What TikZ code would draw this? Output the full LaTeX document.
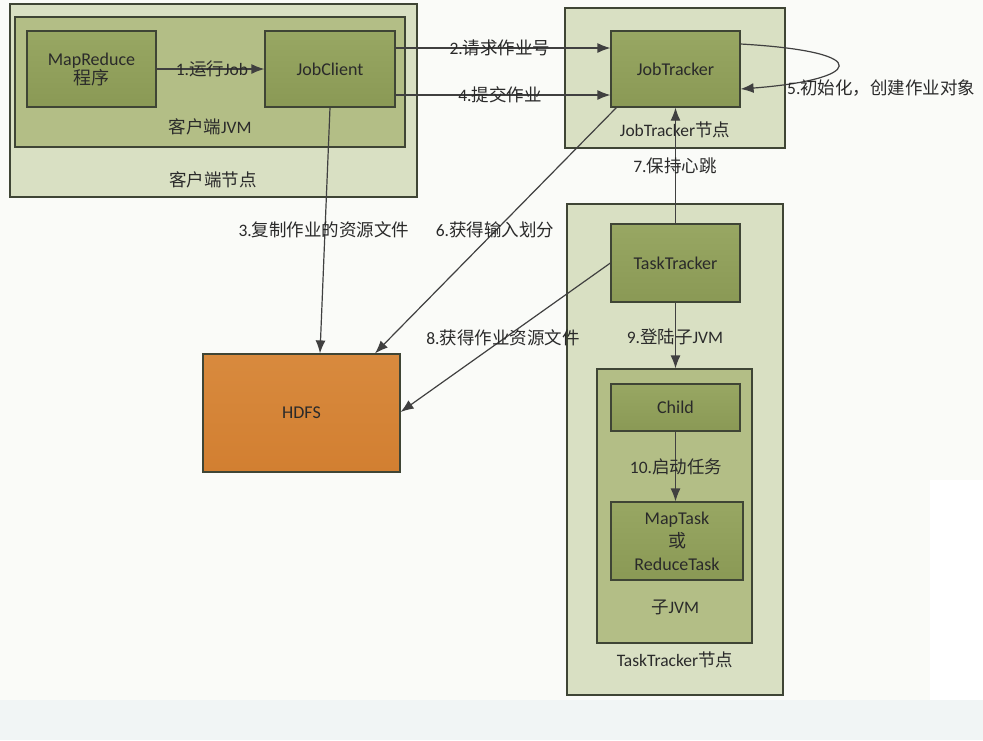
\documentclass[tikz,border=0pt]{standalone}
\usepackage{fontspec}
\setmainfont{Carlito}
\newfontfamily\zhfont{Noto Sans CJK SC}
\newcommand{\zh}[1]{{\zhfont #1}}
\usetikzlibrary{arrows.meta,calc}
\definecolor{outerfill}{HTML}{D9E0C3}
\definecolor{jvmfill}{HTML}{B3BE86}
\definecolor{innerfill}{HTML}{8A9955}
\definecolor{innertop}{HTML}{98A763}
\definecolor{hdfsfill}{HTML}{D27F31}
\definecolor{hdfstop}{HTML}{D88A3E}
\definecolor{edgec}{HTML}{3F4535}
\definecolor{arrc}{HTML}{404040}
\definecolor{txt}{HTML}{2A2A2A}
\definecolor{bg}{HTML}{FAFBF8}
\tikzset{
  frame/.style={draw=edgec, line width=1.2pt, inner sep=0pt},
  outerbox/.style={frame, fill=outerfill},
  jvmbox/.style={frame, fill=jvmfill},
  innerbox/.style={frame, top color=innertop, bottom color=innerfill, text=txt, font=\fontsize{18}{22}\selectfont, align=center},
  hdfsbox/.style={frame, top color=hdfstop, bottom color=hdfsfill, text=txt, font=\fontsize{18}{22}\selectfont},
  lbl/.style={text=txt, font=\fontsize{17.5}{22}\selectfont, inner sep=1pt},
  arr/.style={draw=arrc, line width=1.2pt, -{Latex[length=13pt,width=10pt]}}
}
\begin{document}
\begin{tikzpicture}[x=1pt,y=-1pt]
\useasboundingbox (0,0) rectangle (983,740);
\fill[bg] (0,0) rectangle (983,740);
\fill[white] (930,480) rectangle (983,700);
\fill[color={rgb,255:red,241;green,245;blue,245}] (0,700) rectangle (983,740);
% client node
\node[outerbox, minimum width=407pt, minimum height=193pt] (cn) at (213.5,100.5) {};
\node[jvmbox, minimum width=390pt, minimum height=130pt] (cjvm) at (210,82) {};
\node[innerbox, minimum width=129pt, minimum height=76pt] (mr) at (91.5,69) {MapReduce\\[-3pt]\zh{程序}};
\node[innerbox, minimum width=130pt, minimum height=76pt] (jc) at (330,69) {JobClient};
\node[lbl] (cjvml) at (210,127) {\zh{客户端}JVM};
\node[lbl] (cnl) at (213,180) {\zh{客户端节点}};
% jobtracker node
\node[outerbox, minimum width=220pt, minimum height=140pt] (jtn) at (675,78) {};
\node[innerbox, minimum width=129pt, minimum height=76pt] (jt) at (675.5,69) {JobTracker};
\node[lbl] (jtnl) at (675,130) {JobTracker\zh{节点}};
% tasktracker node
\node[outerbox, minimum width=216pt, minimum height=491pt] (ttn) at (675,449.5) {};
\node[innerbox, minimum width=129pt, minimum height=78pt] (tt) at (675.5,263) {TaskTracker};
\node[jvmbox, minimum width=155pt, minimum height=274pt] (cjvm2) at (674.5,506) {};
\node[innerbox, minimum width=129pt, minimum height=47pt] (child) at (675.5,407.5) {Child};
\node[innerbox, minimum width=132pt, minimum height=78pt, font=\fontsize{18}{23}\selectfont] (mt) at (677,541) {MapTask\\\zh{或}\\ReduceTask};
\node[lbl] (cjvm2l) at (675,607) {\zh{子}JVM};
\node[lbl] (ttnl) at (675,660) {TaskTracker\zh{节点}};
% hdfs
\node[hdfsbox, minimum width=197pt, minimum height=118pt] (hdfs) at (301.5,413) {HDFS};
% arrows
\draw[arr] (mr.east) -- (jc.west);
\node[lbl] (l1) at (212,69) {1.\zh{运行}Job};
\draw[arr] (jc.east |- 0,48) -- (jt.west |- 0,48);
\node[lbl] (l2) at (500,48) {2.\zh{请求作业号}};
\draw[arr] (jc.east |- 0,95) -- (jt.west |- 0,95);
\node[lbl] (l4) at (500,95) {4.\zh{提交作业}};
\draw[arr] (jt.east |- 0,44) .. controls (880,52) and (860,80) .. (jt.east |- 0,89);
\node[lbl, anchor=west] (l5) at (786,88) {5.\zh{初始化，创建作业对象}};
\draw[arr] (tt.north) -- (jt.south);
\node[lbl] (l7) at (675,166) {7.\zh{保持心跳}};
\draw[arr] (jc.south) -- (hdfs.north -| 320,0);
\node[lbl] (l3) at (324,230) {3.\zh{复制作业的资源文件}};
\draw[arr] ($(jt.south west)+(6,0)$) -- (hdfs.north -| 375,0);
\node[lbl] (l6) at (495,230) {6.\zh{获得输入划分}};
\draw[arr] (tt.west) -- (hdfs.east |- 0,412);
\node[lbl] (l8) at (503,338) {8.\zh{获得作业资源文件}};
\draw[arr] (tt.south) -- (cjvm2.north -| tt.south);
\node[lbl] (l9) at (675,337) {9.\zh{登陆子}JVM};
\draw[arr] (child.south) -- (mt.north -| child.south);
\node[lbl] (l10) at (676,467) {10.\zh{启动任务}};
\end{tikzpicture}
\end{document}
